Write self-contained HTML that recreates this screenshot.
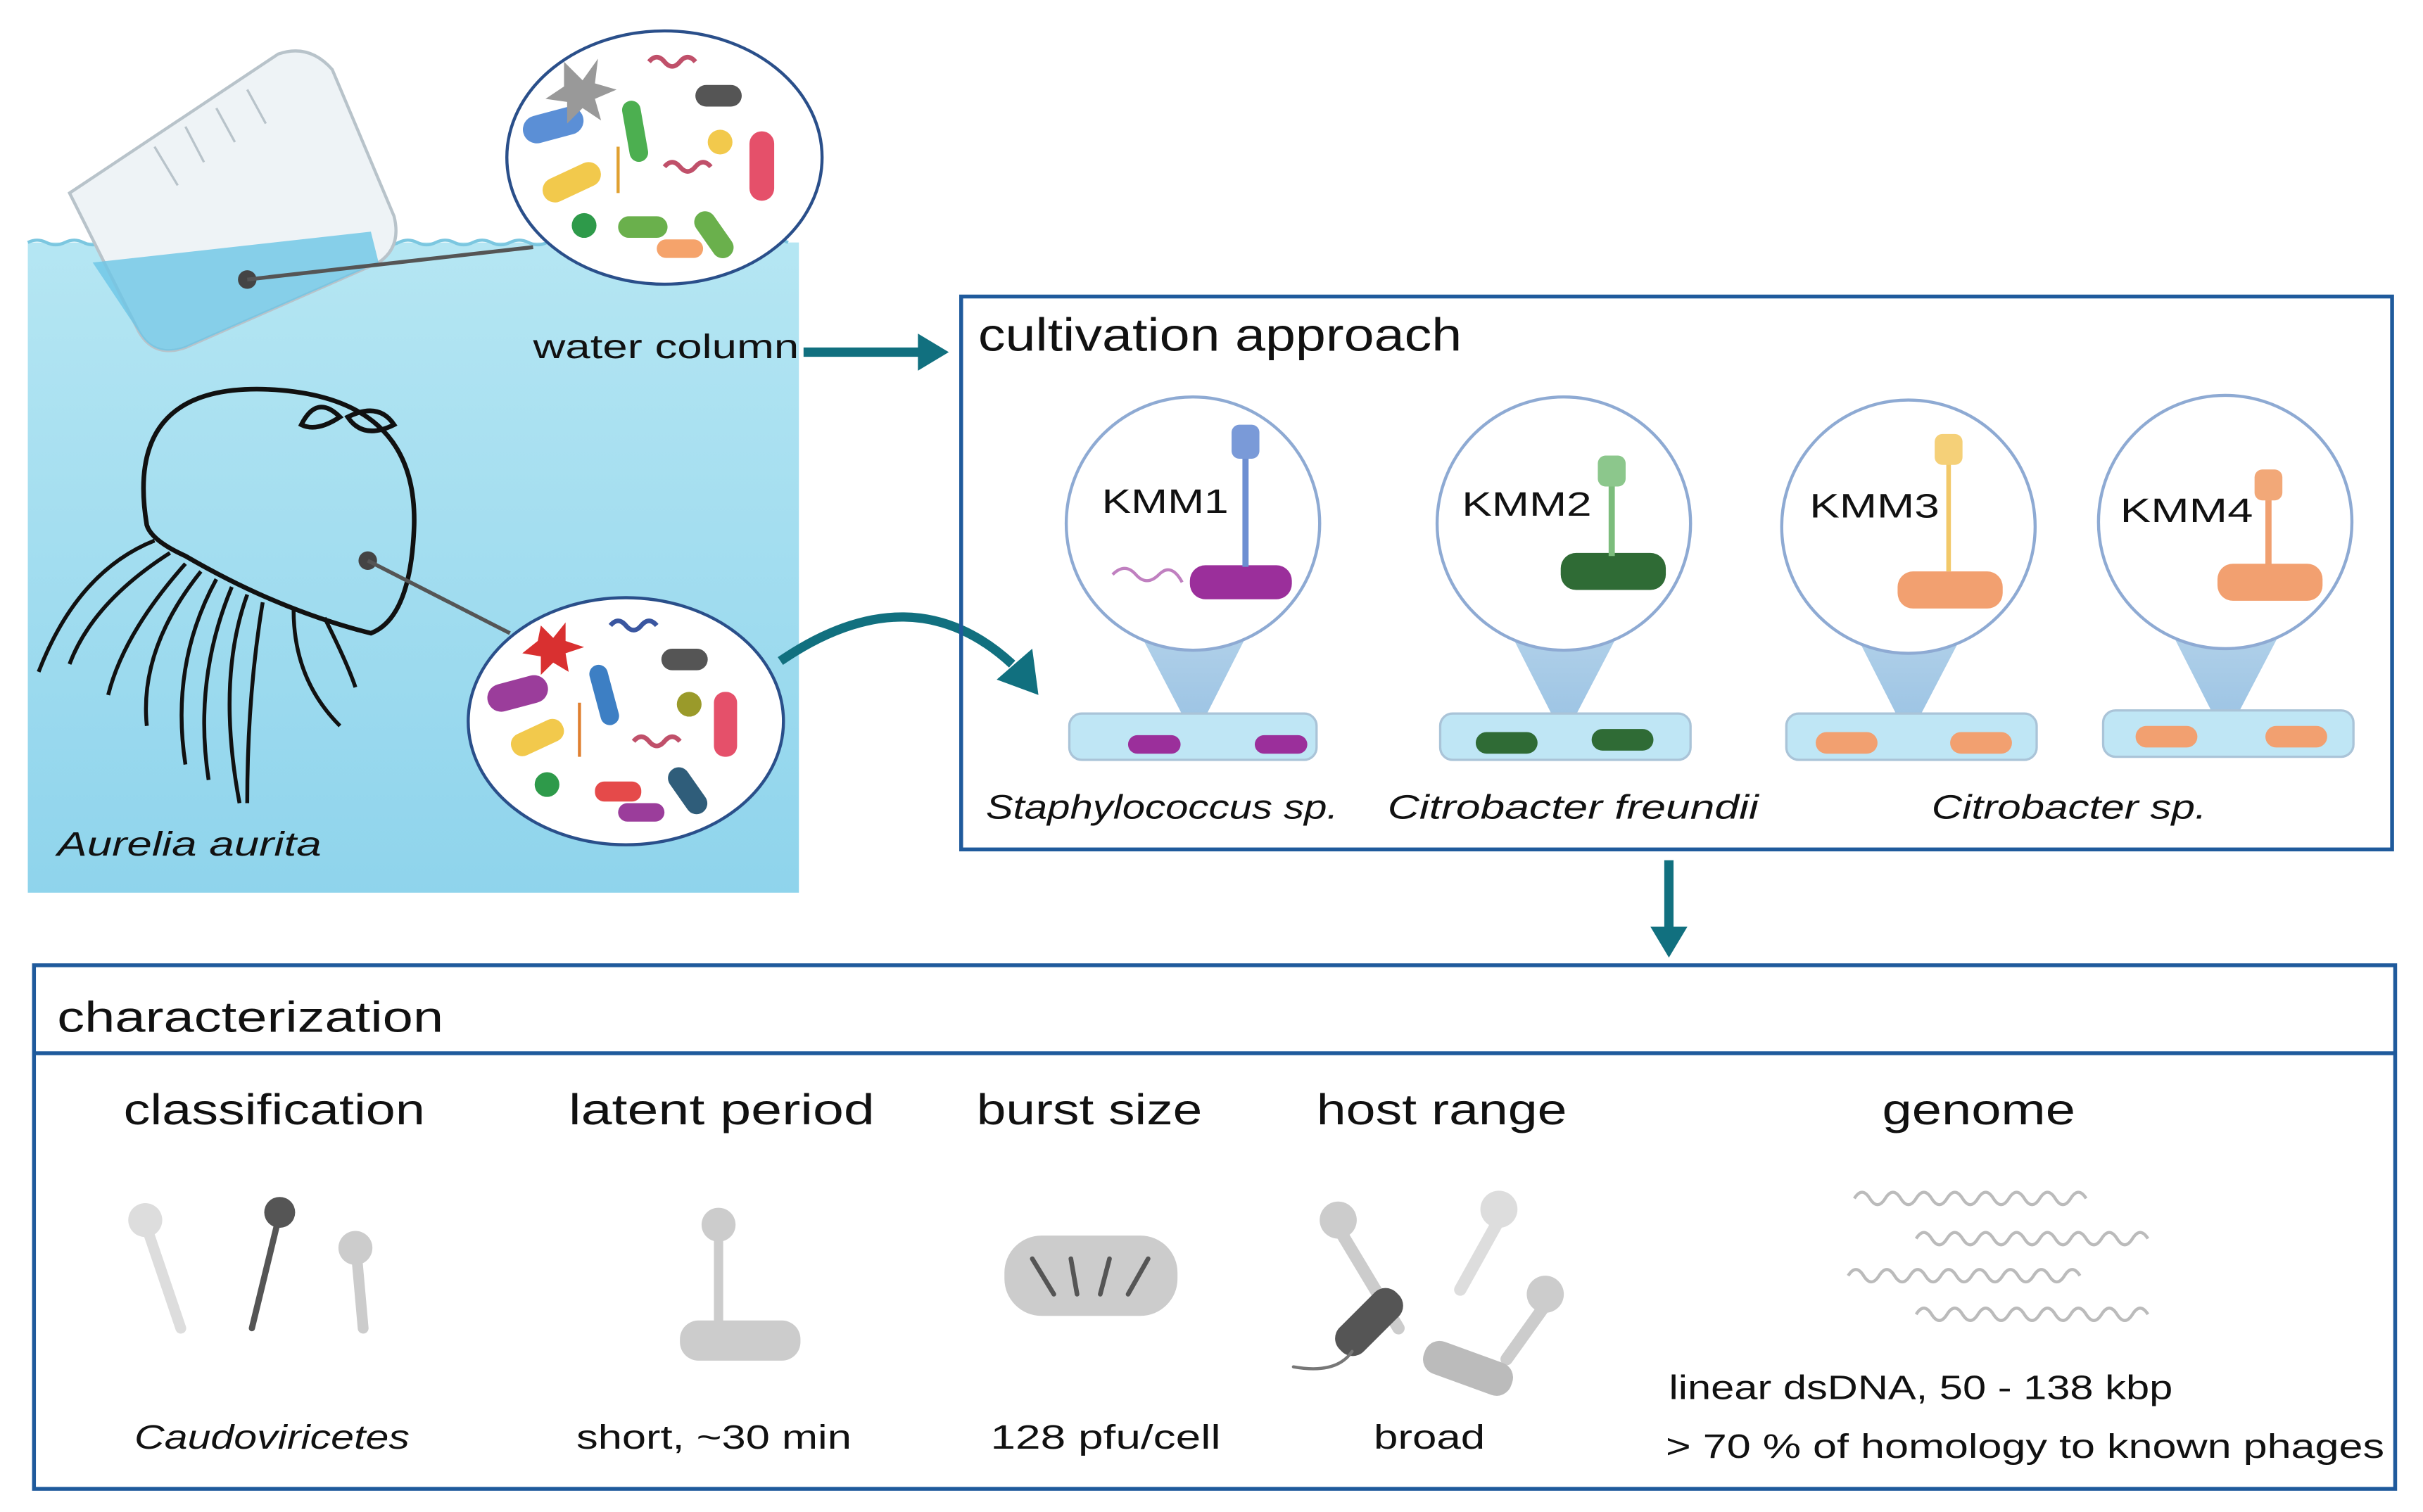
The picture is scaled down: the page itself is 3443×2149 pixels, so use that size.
<!DOCTYPE html>
<html><head><meta charset="utf-8"><style>
html,body{margin:0;padding:0;background:#fff;}
svg{display:block;}
text{font-family:"Liberation Sans",sans-serif;fill:#111;}
</style></head><body>
<svg width="3443" height="2149" viewBox="0 0 1568 979" preserveAspectRatio="none" xmlns="http://www.w3.org/2000/svg">
<defs>
<linearGradient id="w" x1="0" y1="0" x2="0" y2="1"><stop offset="0" stop-color="#b5e6f3"/><stop offset="1" stop-color="#8fd4ec"/></linearGradient>
<linearGradient id="cone" x1="0" y1="0" x2="0" y2="1"><stop offset="0" stop-color="#9fc6e4"/><stop offset="1" stop-color="#7fb2dc"/></linearGradient>
</defs>
<rect x="18" y="157" width="499" height="421" fill="url(#w)"/>
<path d="M18 157 q6 -3 12 0 t12 0 t12 0 t12 0 t12 0 t12 0 t12 0 t12 0 t12 0 t12 0 t12 0 t12 0 t12 0 t12 0 t12 0 t12 0 t12 0 t12 0 t12 0 t12 0 t12 0 t12 0 t12 0 t12 0 t12 0 t12 0 t12 0 t12 0 t12 0 t12 0 t12 0 t12 0 t12 0 t12 0 t12 0 t12 0 t12 0 t12 0 t12 0 t12 0 t12 0" fill="none" stroke="#7cc7e0" stroke-width="2"/>
<path d="M45 125 L180 35 Q200 28 215 45 L255 140 Q260 160 245 170 L120 225 Q100 232 90 215 Z" fill="#eef3f6" stroke="#b8c3ca" stroke-width="2"/>
<path d="M60 170 L240 150 L245 170 L120 225 Q100 232 90 215 Z" fill="#6cc6e6" opacity="0.8"/>
<g stroke="#b8c3ca" stroke-width="1.5"><line x1="100" y1="95" x2="115" y2="120"/><line x1="120" y1="82" x2="132" y2="105"/><line x1="140" y1="70" x2="152" y2="92"/><line x1="160" y1="58" x2="172" y2="80"/></g>
<circle cx="160" cy="181" r="6" fill="#444"/>
<line x1="160" y1="181" x2="345" y2="160" stroke="#555" stroke-width="2.5"/>
<ellipse cx="430" cy="102" rx="102" ry="82" fill="#fff" stroke="#2a4f8a" stroke-width="2"/>
<g>
<rect x="338" y="72" width="40" height="18" rx="9" fill="#5b8fd6" transform="rotate(-15 358 81)"/>
<rect x="350" y="110" width="40" height="16" rx="8" fill="#f2c94c" transform="rotate(-25 370 118)"/>
<rect x="485" y="85" width="16" height="45" rx="8" fill="#e5506a"/>
<rect x="405" y="65" width="12" height="40" rx="6" fill="#4caf50" transform="rotate(-10 411 85)"/>
<rect x="450" y="55" width="30" height="14" rx="7" fill="#555"/>
<rect x="400" y="140" width="32" height="14" rx="7" fill="#6ab04c"/>
<rect x="455" y="135" width="14" height="34" rx="7" fill="#6ab04c" transform="rotate(-35 462 152)"/>
<rect x="425" y="155" width="30" height="12" rx="6" fill="#f5a36b"/>
<circle cx="378" cy="146" r="8" fill="#2e9a4a"/><circle cx="466" cy="92" r="8" fill="#f2c94c"/>
<path d="M365 40 l12 12 l10 -14 l-2 16 l14 4 l-14 6 l4 14 l-12 -8 l-10 10 l0 -14 l-14 -2 l12 -8 z" fill="#999"/>
<path d="M420 40 q5 -6 10 0 t10 0 t10 0" fill="none" stroke="#c0506a" stroke-width="3"/>
<path d="M430 108 q5 -6 10 0 t10 0 t10 0" fill="none" stroke="#c0506a" stroke-width="3"/>
<line x1="400" y1="95" x2="400" y2="125" stroke="#e0a030" stroke-width="2"/>
</g>
<path d="M95 340 Q80 250 170 252 Q270 255 268 340 Q266 400 240 410 Q180 395 120 360 Q98 350 95 340Z" fill="none" stroke="#111" stroke-width="3"/>
<path d="M195 275 q10 -20 25 -5 q-15 10 -25 5z M225 270 q20 -10 30 5 q-20 10 -30 -5z" fill="none" stroke="#111" stroke-width="3"/>
<g fill="none" stroke="#111" stroke-width="2.5">
<path d="M100 350 Q50 370 25 435"/><path d="M110 358 Q60 390 45 430"/>
<path d="M130 370 Q90 420 95 470"/><path d="M140 375 Q110 430 120 495"/>
<path d="M160 385 Q140 440 155 520"/><path d="M170 390 Q160 450 160 520"/>
<path d="M190 395 Q190 440 220 470"/><path d="M210 400 Q225 430 230 445"/>
<path d="M120 365 Q80 410 70 450"/><path d="M150 380 Q125 440 135 505"/>
</g>
<circle cx="238" cy="363" r="6" fill="#444"/>
<line x1="238" y1="363" x2="330" y2="410" stroke="#555" stroke-width="2.5"/>
<ellipse cx="405" cy="467" rx="102" ry="80" fill="#fff" stroke="#2a4f8a" stroke-width="2"/>
<g>
<rect x="315" y="440" width="40" height="18" rx="9" fill="#9b3d9b" transform="rotate(-15 335 449)"/>
<rect x="330" y="470" width="36" height="15" rx="7" fill="#f2c94c" transform="rotate(-25 348 478)"/>
<rect x="462" y="448" width="15" height="42" rx="7" fill="#e5506a"/>
<rect x="385" y="430" width="12" height="40" rx="6" fill="#3d7fc4" transform="rotate(-15 391 450)"/>
<rect x="428" y="420" width="30" height="14" rx="7" fill="#555"/>
<rect x="385" y="506" width="30" height="13" rx="6" fill="#e54a4a"/>
<rect x="438" y="495" width="14" height="34" rx="7" fill="#2f5d7a" transform="rotate(-35 445 512)"/>
<rect x="400" y="520" width="30" height="12" rx="6" fill="#9b3d9b"/>
<circle cx="354" cy="508" r="8" fill="#2e9a4a"/><circle cx="446" cy="456" r="8" fill="#9a9a2a"/>
<path d="M350 405 l8 8 l8 -10 l0 12 l12 4 l-12 4 l2 12 l-10 -6 l-8 8 l0 -12 l-12 -2 l10 -8z" fill="#d93030"/>
<path d="M395 405 q5 -6 10 0 t10 0 t10 0" fill="none" stroke="#3a56a0" stroke-width="3"/>
<path d="M410 480 q5 -6 10 0 t10 0 t10 0" fill="none" stroke="#c0506a" stroke-width="3"/>
<line x1="375" y1="455" x2="375" y2="490" stroke="#e08030" stroke-width="2"/>
</g>
<text x="37" y="554" font-size="22" font-style="italic" textLength="171" lengthAdjust="spacingAndGlyphs">Aurelia aurita</text>
<text x="345" y="232" font-size="22" textLength="172" lengthAdjust="spacingAndGlyphs">water column</text>
<line x1="520" y1="228" x2="596" y2="228" stroke="#11707f" stroke-width="6"/>
<polygon points="594,216 614,228 594,240" fill="#11707f"/>
<path d="M505 428 Q590 370 655 430" fill="none" stroke="#11707f" stroke-width="6"/>
<polygon points="645,440 672,450 668,420" fill="#11707f"/>
<line x1="1080" y1="557" x2="1080" y2="602" stroke="#11707f" stroke-width="6"/>
<polygon points="1068,600 1080,620 1092,600" fill="#11707f"/>
<rect x="622" y="192" width="926" height="358" fill="none" stroke="#1f5a9c" stroke-width="2.5"/>
<text x="633" y="227" font-size="30" textLength="313" lengthAdjust="spacingAndGlyphs">cultivation approach</text>
<g>
<polygon points="735,405 810,405 773,478" fill="url(#cone)" opacity="0.8"/>
<ellipse cx="772" cy="339" rx="82" ry="82" fill="#fff" stroke="#8eaad3" stroke-width="2"/>
<rect x="692" y="462" width="160" height="30" rx="8" fill="#bfe6f5" stroke="#aac4d8" stroke-width="1.5"/>
<rect x="730" y="476" width="34" height="12" rx="6" fill="#9b2f9b"/><rect x="812" y="476" width="34" height="12" rx="6" fill="#9b2f9b"/>
<rect x="770" y="366" width="66" height="22" rx="10" fill="#9b2f9b"/>
<path d="M720 372 q8 -8 15 0 t15 0 t15 5" fill="none" stroke="#c080c0" stroke-width="2"/>
<line x1="806" y1="290" x2="806" y2="367" stroke="#6d8fd2" stroke-width="4"/>
<rect x="797" y="275" width="18" height="22" rx="5" fill="#7a9ad8"/>
<text x="713" y="332" font-size="22" textLength="82" lengthAdjust="spacingAndGlyphs">KMM1</text>
</g>
<g>
<polygon points="975,405 1050,405 1012,478" fill="url(#cone)" opacity="0.8"/>
<ellipse cx="1012" cy="339" rx="82" ry="82" fill="#fff" stroke="#8eaad3" stroke-width="2"/>
<rect x="932" y="462" width="162" height="30" rx="8" fill="#bfe6f5" stroke="#aac4d8" stroke-width="1.5"/>
<rect x="955" y="474" width="40" height="14" rx="7" fill="#2f6b35"/><rect x="1030" y="472" width="40" height="14" rx="7" fill="#2f6b35"/>
<rect x="1010" y="358" width="68" height="24" rx="10" fill="#2f6b35"/>
<line x1="1043" y1="310" x2="1043" y2="360" stroke="#7cbd7c" stroke-width="4"/>
<rect x="1034" y="295" width="18" height="20" rx="5" fill="#8cc78c"/>
<text x="946" y="334" font-size="22" textLength="84" lengthAdjust="spacingAndGlyphs">KMM2</text>
</g>
<g>
<polygon points="1198,405 1273,405 1235,478" fill="url(#cone)" opacity="0.8"/>
<ellipse cx="1235" cy="341" rx="82" ry="82" fill="#fff" stroke="#8eaad3" stroke-width="2"/>
<rect x="1156" y="462" width="162" height="30" rx="8" fill="#bfe6f5" stroke="#aac4d8" stroke-width="1.5"/>
<rect x="1175" y="474" width="40" height="14" rx="7" fill="#f2a070"/><rect x="1262" y="474" width="40" height="14" rx="7" fill="#f2a070"/>
<rect x="1228" y="370" width="68" height="24" rx="10" fill="#f2a070"/>
<line x1="1261" y1="295" x2="1261" y2="370" stroke="#f2c96a" stroke-width="3"/>
<rect x="1252" y="281" width="18" height="20" rx="5" fill="#f5d078"/>
<text x="1171" y="335" font-size="22" textLength="84" lengthAdjust="spacingAndGlyphs">KMM3</text>
</g>
<g>
<polygon points="1403,405 1478,405 1440,478" fill="url(#cone)" opacity="0.8"/>
<ellipse cx="1440" cy="338" rx="82" ry="82" fill="#fff" stroke="#8eaad3" stroke-width="2"/>
<rect x="1361" y="460" width="162" height="30" rx="8" fill="#bfe6f5" stroke="#aac4d8" stroke-width="1.5"/>
<rect x="1382" y="470" width="40" height="14" rx="7" fill="#f2a070"/><rect x="1466" y="470" width="40" height="14" rx="7" fill="#f2a070"/>
<rect x="1435" y="365" width="68" height="24" rx="10" fill="#f2a070"/>
<line x1="1468" y1="318" x2="1468" y2="366" stroke="#f0a070" stroke-width="4"/>
<rect x="1459" y="304" width="18" height="20" rx="5" fill="#f2a878"/>
<text x="1372" y="338" font-size="22" textLength="86" lengthAdjust="spacingAndGlyphs">KMM4</text>
</g>
<text x="638" y="530" font-size="22" font-style="italic" textLength="228" lengthAdjust="spacingAndGlyphs">Staphylococcus sp.</text>
<text x="898" y="530" font-size="22" font-style="italic" textLength="240" lengthAdjust="spacingAndGlyphs">Citrobacter freundii</text>
<text x="1250" y="530" font-size="22" font-style="italic" textLength="178" lengthAdjust="spacingAndGlyphs">Citrobacter sp.</text>
<rect x="22" y="625" width="1528" height="339" fill="none" stroke="#1f5a9c" stroke-width="2.5"/>
<line x1="22" y1="682" x2="1550" y2="682" stroke="#1f5a9c" stroke-width="2.5"/>
<text x="37" y="668" font-size="28" textLength="250" lengthAdjust="spacingAndGlyphs">characterization</text>
<text x="80" y="728" font-size="28" textLength="195" lengthAdjust="spacingAndGlyphs">classification</text>
<text x="368" y="728" font-size="28" textLength="198" lengthAdjust="spacingAndGlyphs">latent period</text>
<text x="632" y="728" font-size="28" textLength="146" lengthAdjust="spacingAndGlyphs">burst size</text>
<text x="852" y="728" font-size="28" textLength="162" lengthAdjust="spacingAndGlyphs">host range</text>
<text x="1218" y="728" font-size="28" textLength="125" lengthAdjust="spacingAndGlyphs">genome</text>
<g stroke-linecap="round">
<line x1="95" y1="795" x2="117" y2="860" stroke="#ddd" stroke-width="7"/><circle cx="94" cy="790" r="11" fill="#ddd"/>
<line x1="180" y1="790" x2="163" y2="860" stroke="#555" stroke-width="4"/><circle cx="181" cy="785" r="10" fill="#555"/>
<line x1="231" y1="815" x2="235" y2="860" stroke="#ccc" stroke-width="7"/><circle cx="230" cy="808" r="11" fill="#ccc"/>
<line x1="465" y1="800" x2="465" y2="860" stroke="#ccc" stroke-width="6"/><circle cx="465" cy="793" r="11" fill="#ccc"/>
<rect x="440" y="855" width="78" height="26" rx="12" fill="#ccc"/>
<rect x="650" y="800" width="112" height="52" rx="24" fill="#ccc"/>
<g stroke="#555" stroke-width="3"><line x1="668" y1="815" x2="682" y2="838"/><line x1="693" y1="815" x2="697" y2="838"/><line x1="718" y1="815" x2="712" y2="838"/><line x1="743" y1="815" x2="730" y2="838"/></g>
<line x1="866" y1="795" x2="905" y2="860" stroke="#ccc" stroke-width="8"/><circle cx="866" cy="790" r="12" fill="#ccc"/>
<line x1="970" y1="790" x2="945" y2="835" stroke="#ddd" stroke-width="8"/><circle cx="970" cy="783" r="12" fill="#ddd"/>
<rect x="875" y="830" width="22" height="52" rx="10" fill="#555" transform="rotate(45 886 856)"/>
<path d="M875 875 q-10 15 -38 10" fill="none" stroke="#777" stroke-width="2"/>
<line x1="1000" y1="845" x2="975" y2="880" stroke="#ccc" stroke-width="8"/><circle cx="1000" cy="838" r="12" fill="#ccc"/>
<rect x="920" y="875" width="60" height="22" rx="10" fill="#bbb" transform="rotate(20 950 886)"/>
</g>
<g fill="none" stroke="#bbb" stroke-width="2">
<path d="M1200 776 q5 -8 10 0 t10 0 t10 0 t10 0 t10 0 t10 0 t10 0 t10 0 t10 0 t10 0 t10 0 t10 0 t10 0 t10 0 t10 0"/>
<path d="M1240 802 q5 -8 10 0 t10 0 t10 0 t10 0 t10 0 t10 0 t10 0 t10 0 t10 0 t10 0 t10 0 t10 0 t10 0 t10 0 t10 0"/>
<path d="M1196 826 q5 -8 10 0 t10 0 t10 0 t10 0 t10 0 t10 0 t10 0 t10 0 t10 0 t10 0 t10 0 t10 0 t10 0 t10 0 t10 0"/>
<path d="M1240 851 q5 -8 10 0 t10 0 t10 0 t10 0 t10 0 t10 0 t10 0 t10 0 t10 0 t10 0 t10 0 t10 0 t10 0 t10 0 t10 0"/>
</g>
<text x="87" y="938" font-size="22" font-style="italic" textLength="178" lengthAdjust="spacingAndGlyphs">Caudoviricetes</text>
<text x="373" y="938" font-size="22" textLength="178" lengthAdjust="spacingAndGlyphs">short, ~30 min</text>
<text x="641" y="938" font-size="22" textLength="149" lengthAdjust="spacingAndGlyphs">128 pfu/cell</text>
<text x="889" y="938" font-size="22" textLength="72" lengthAdjust="spacingAndGlyphs">broad</text>
<text x="1080" y="906" font-size="22" textLength="326" lengthAdjust="spacingAndGlyphs">linear dsDNA, 50 - 138 kbp</text>
<text x="1078" y="944" font-size="22" textLength="465" lengthAdjust="spacingAndGlyphs">&gt; 70 % of homology to known phages</text>
</svg>
</body></html>
